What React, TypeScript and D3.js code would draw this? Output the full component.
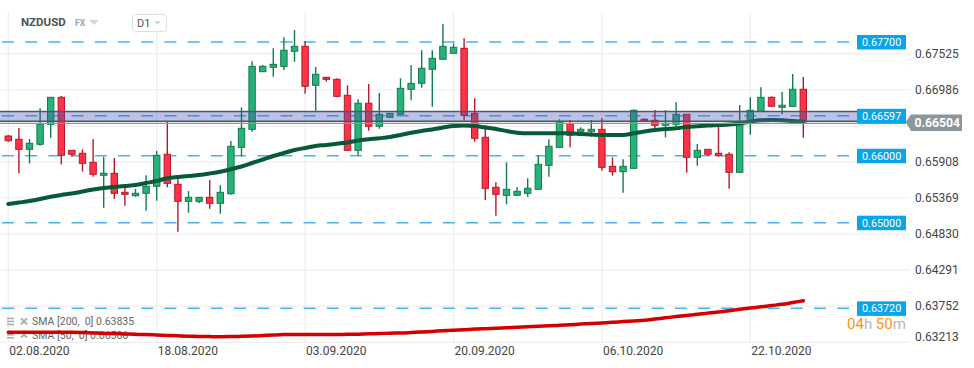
import React from 'react';
import * as d3 from 'd3';

const W = 974;
const H = 368;

// Daily bars 02.08.2020 .. 28.10.2020 (Saturdays excluded, Sunday bars included)
const startDate = new Date(2020, 7, 2);
const endDate = new Date(2020, 9, 29);
const fmt = d3.timeFormat('%d.%m.%Y');
const dates: string[] = d3.timeDay.range(startDate, endDate).filter(d => d.getDay() !== 6).map(d => fmt(d));

const open = [
  0.66295, 0.66246, 0.66096, 0.66171, 0.66470, 0.66873, 0.66081, 0.66037, 0.65902, 0.65708,
  0.65738, 0.65454, 0.65403, 0.65439, 0.65544, 0.66022, 0.65573, 0.65319, 0.65319, 0.65379,
  0.65290, 0.65433, 0.66126, 0.66395, 0.67256, 0.67322, 0.67336, 0.67561, 0.67635, 0.67053,
  0.67172, 0.67142, 0.66903, 0.66081, 0.66784, 0.66440, 0.66574, 0.66619, 0.66993, 0.67082,
  0.67292, 0.67441, 0.67531, 0.67605, 0.66634, 0.66276, 0.65529, 0.65409, 0.65409, 0.65439,
  0.65499, 0.65857, 0.66126, 0.66479, 0.66365, 0.66365, 0.66395, 0.65842, 0.65762, 0.65812,
  0.66545, 0.66530, 0.66455, 0.66470, 0.66619, 0.65977, 0.66096, 0.66037, 0.66022, 0.65753,
  0.66485, 0.66664, 0.66873, 0.66724, 0.66739, 0.66993];

const high = [
  0.66310, 0.66415, 0.66250, 0.66709, 0.66873, 0.66893, 0.66081, 0.66096, 0.66250, 0.65986,
  0.65966, 0.65573, 0.65503, 0.65708, 0.66071, 0.66515, 0.65678, 0.65473, 0.65379, 0.65638,
  0.65558, 0.66220, 0.66724, 0.67411, 0.67356, 0.67605, 0.67770, 0.67879, 0.67714, 0.67326,
  0.67172, 0.67157, 0.67053, 0.66843, 0.67072, 0.66938, 0.66634, 0.67157, 0.67356, 0.67576,
  0.67576, 0.67968, 0.67680, 0.67755, 0.66858, 0.66455, 0.65603, 0.65902, 0.65529, 0.65663,
  0.66007, 0.66246, 0.66545, 0.66534, 0.66425, 0.66534, 0.66560, 0.65977, 0.65947, 0.66694,
  0.66560, 0.66684, 0.66684, 0.66803, 0.66619, 0.66176, 0.66096, 0.66449, 0.66051, 0.66758,
  0.66873, 0.67023, 0.66888, 0.66952, 0.67221, 0.67177];

const low = [
  0.66210, 0.65738, 0.65887, 0.66150, 0.66270, 0.65872, 0.65986, 0.65762, 0.65687, 0.65224,
  0.65358, 0.65254, 0.65388, 0.65179, 0.65328, 0.65529, 0.64865, 0.65149, 0.65290, 0.65209,
  0.65134, 0.65418, 0.65989, 0.66359, 0.67256, 0.67181, 0.67281, 0.67405, 0.66927, 0.66673,
  0.67106, 0.66873, 0.66081, 0.66001, 0.66374, 0.66404, 0.66574, 0.66619, 0.66828, 0.67017,
  0.66733, 0.67441, 0.67531, 0.66524, 0.66210, 0.65339, 0.65104, 0.65275, 0.65399, 0.65388,
  0.65499, 0.65687, 0.66126, 0.66126, 0.66335, 0.66285, 0.65777, 0.65702, 0.65448, 0.65812,
  0.66515, 0.66395, 0.66276, 0.66434, 0.65747, 0.65851, 0.66001, 0.65986, 0.65508, 0.65753,
  0.66314, 0.66664, 0.66739, 0.66619, 0.66739, 0.66270];

const close = [
  0.66225, 0.66096, 0.66186, 0.66474, 0.66873, 0.66007, 0.66022, 0.65887, 0.65723, 0.65738,
  0.65439, 0.65424, 0.65439, 0.65544, 0.66007, 0.65588, 0.65319, 0.65379, 0.65379, 0.65290,
  0.65454, 0.66141, 0.66410, 0.67336, 0.67336, 0.67366, 0.67576, 0.67635, 0.67038, 0.67217,
  0.67142, 0.66888, 0.66081, 0.66784, 0.66440, 0.66619, 0.66634, 0.67008, 0.67082, 0.67307,
  0.67456, 0.67635, 0.67620, 0.66604, 0.66261, 0.65514, 0.65424, 0.65499, 0.65469, 0.65514,
  0.65872, 0.66141, 0.66504, 0.66306, 0.66395, 0.66395, 0.65827, 0.65762, 0.65842, 0.66679,
  0.66515, 0.66455, 0.66485, 0.66619, 0.65977, 0.66081, 0.66022, 0.66001, 0.65753, 0.66485,
  0.66679, 0.66873, 0.66739, 0.66754, 0.66993, 0.66504];

const sma50 = [
  0.65279, 0.65301, 0.65324, 0.65354, 0.65388, 0.65414, 0.65436, 0.65466, 0.65496, 0.65518,
  0.65533, 0.65548, 0.65563, 0.65593, 0.65623, 0.65663, 0.65682, 0.65697, 0.65712, 0.65735,
  0.65762, 0.65798, 0.65839, 0.65892, 0.65944, 0.65996, 0.66041, 0.66086, 0.66116, 0.66146,
  0.66161, 0.66180, 0.66198, 0.66228, 0.66246, 0.66261, 0.66280, 0.66310, 0.66344, 0.66370,
  0.66392, 0.66422, 0.66444, 0.66452, 0.66444, 0.66422, 0.66400, 0.66370, 0.66344, 0.66335,
  0.66335, 0.66335, 0.66335, 0.66335, 0.66325, 0.66317, 0.66310, 0.66310, 0.66310, 0.66335,
  0.66362, 0.66385, 0.66400, 0.66410, 0.66430, 0.66441, 0.66452, 0.66459, 0.66467, 0.66482,
  0.66509, 0.66530, 0.66534, 0.66530, 0.66519, 0.66509];

const sma200 = [
  0.63362, 0.63362, 0.63362, 0.63362, 0.63362, 0.63362, 0.63362, 0.63358, 0.63352, 0.63347,
  0.63343, 0.63337, 0.63332, 0.63328, 0.63322, 0.63316, 0.63310, 0.63305, 0.63301, 0.63298,
  0.63296, 0.63298, 0.63302, 0.63307, 0.63314, 0.63322, 0.63328, 0.63329, 0.63329, 0.63329,
  0.63331, 0.63331, 0.63332, 0.63335, 0.63340, 0.63344, 0.63349, 0.63352, 0.63359, 0.63367,
  0.63376, 0.63385, 0.63394, 0.63402, 0.63411, 0.63417, 0.63423, 0.63429, 0.63437, 0.63444,
  0.63452, 0.63459, 0.63467, 0.63476, 0.63485, 0.63494, 0.63503, 0.63512, 0.63522, 0.63532,
  0.63543, 0.63561, 0.63579, 0.63597, 0.63613, 0.63631, 0.63649, 0.63667, 0.63686, 0.63706,
  0.63725, 0.63743, 0.63762, 0.63780, 0.63807, 0.63834];

const yTicks = [0.67525, 0.66986, 0.66447, 0.65908, 0.65369, 0.64830, 0.64291, 0.63752, 0.63213];
const hiddenTick = 0.66447;
const levels = [0.67700, 0.66597, 0.66000, 0.65000, 0.63720];
const band = [0.66515, 0.66661];
const lastPrice = 0.66504;
const xTickLabels = ['02.08.2020', '18.08.2020', '03.09.2020', '20.09.2020', '06.10.2020', '22.10.2020'];
const legendRows = ['SMA [200,  0] 0.63835', 'SMA [50,  0] 0.66506'];

const FONT = 'Roboto, "Noto Sans", sans-serif';

export default function App() {
  const x = d3.scalePoint<string>().domain(dates).range([8.3, 803.3]);
  const y = d3.scaleLinear().domain([0.63098, 0.68327]).range([350, 0]);
  const idx = d3.range(dates.length);

  const lineGen = (vals: number[]) =>
    d3.line<number>().x(i => x(dates[i]) as number).y(i => y(vals[i])).curve(d3.curveMonotoneX)(idx) || '';

  const bodyW = 6.4;
  const gridRight = 910;
  const labelX = 857;

  return (
    <svg width={W} height={H} style={{ position: 'absolute', left: 0, top: 0, background: '#fff' }} fontFamily={FONT}>
      {/* grid */}
      {yTicks.map(t => (
        <line key={'g' + t} x1={0} x2={gridRight} y1={y(t)} y2={y(t)} stroke="#eeeeee" strokeWidth={1.2} />
      ))}
      {xTickLabels.map(l => (
        <line key={'v' + l} x1={x(l)} x2={x(l)} y1={12} y2={y(0.63213)} stroke="#eeeeee" strokeWidth={1.2} />
      ))}

      {/* header */}
      <text x={21} y={26} fontSize={11.5} fontWeight={700} fill="#4a5359">NZDUSD</text>
      <text x={75} y={26} fontSize={8.5} fontWeight={700} fill="#9aa3a8">FX</text>
      <path d="M89,20 L99,20 L94,25 Z" fill="#d5d8da" />
      <rect x={132.5} y={14.5} width={34} height={17} rx={3} fill="#fff" stroke="#dcdfe1" />
      <text x={137} y={27} fontSize={11} fill="#555">D1</text>
      <path d="M154,21 L161,21 L157.5,25 Z" fill="#d5d8da" />

      {/* horizontal levels */}
      {levels.map(l => (
        <line key={'l' + l} x1={2} x2={labelX} y1={y(l)} y2={y(l)} stroke="#42b6f0" strokeWidth={1.5} strokeDasharray="12 11.2" />
      ))}

      {/* legend */}
      {legendRows.map((r, i) => {
        const cy = 321.7 + i * 13.3;
        return (
          <g key={'lg' + i}>
            <rect x={7} y={cy - 4} width={7} height={1.5} fill="#a8a8a8" />
            <rect x={7} y={cy - 1} width={7} height={1.5} fill="#a8a8a8" />
            <rect x={7} y={cy + 2} width={7} height={1.5} fill="#a8a8a8" />
            <path d={`M21,${cy - 3.5} L27,${cy + 2.5} M27,${cy - 3.5} L21,${cy + 2.5}`} stroke="#b0b0b0" strokeWidth={2} />
            <text x={32} y={cy} dy="0.35em" fontSize={10.5} fill="#666" style={{ whiteSpace: 'pre' }}>{r}</text>
          </g>
        );
      })}

      {/* candles */}
      {idx.map(i => {
        const up = close[i] >= open[i];
        const cx = x(dates[i]) as number;
        const top = y(Math.max(open[i], close[i]));
        const bot = y(Math.min(open[i], close[i]));
        const h = Math.max(bot - top, 1.5);
        const fill = up ? '#27b377' : '#ff3347';
        const stroke = up ? '#167a4e' : '#b5192c';
        return (
          <g key={'c' + i}>
            <line x1={cx} x2={cx} y1={y(high[i])} y2={y(low[i])} stroke={stroke} strokeWidth={1.4} />
            <rect x={cx - bodyW / 2} y={top} width={bodyW} height={h} fill={fill} stroke={stroke} strokeWidth={1} />
          </g>
        );
      })}

      {/* SMA lines */}
      <path d={lineGen(sma200)} fill="none" stroke="#d40000" strokeWidth={3.5} strokeLinejoin="round" strokeLinecap="round" />
      <path d={lineGen(sma50)} fill="none" stroke="#065a38" strokeWidth={4} strokeLinejoin="round" strokeLinecap="round" />

      {/* zone band */}
      <rect x={0} y={y(band[1])} width={labelX} height={y(band[0]) - y(band[1])} fill="#3f51b5" fillOpacity={0.35} />
      <line x1={0} x2={labelX} y1={y(band[1])} y2={y(band[1])} stroke="#4c5863" strokeWidth={1.6} />
      <line x1={0} x2={labelX} y1={y(band[0])} y2={y(band[0])} stroke="#4c5863" strokeWidth={1.6} />
      <line x1={0} x2={906} y1={y(lastPrice) + 1.3} y2={y(lastPrice) + 1.3} stroke="#8e989c" strokeWidth={1.2} />

      {/* level labels */}
      {levels.map(l => (
        <g key={'ll' + l}>
          <rect x={labelX} y={y(l) - 7} width={49} height={14.5} fill="#0aa5e9" />
          <text x={862} y={y(l) + 0.3} dy="0.35em" fontSize={10.8} fill="#fff">{l.toFixed(5)}</text>
        </g>
      ))}

      {/* y axis labels */}
      {yTicks.filter(t => t !== hiddenTick).map(t => (
        <text key={'t' + t} x={915} y={t === 0.63213 ? 337 : y(t)} dy="0.35em" fontSize={12} fill="#454545">{t.toFixed(5)}</text>
      ))}

      {/* last price label */}
      <path d={`M905.7,${y(lastPrice)} L911,114.5 L962,114.5 L962,131 L911,131 Z`} fill="#8c979b" />
      <text x={914.5} y={123} dy="0.35em" fontSize={12.2} fontWeight={700} fill="#fff">{lastPrice.toFixed(5)}</text>

      {/* countdown */}
      <text x={847} y={329} fontSize={15} fill="#f7941d">
        04<tspan fill="#b5b5b5">h</tspan> 50<tspan fill="#b5b5b5">m</tspan>
      </text>

      {/* x axis labels */}
      {xTickLabels.map(l => (
        <text key={'xl' + l} x={(x(l) as number) + 1} y={351} dy="0.35em" fontSize={12} fill="#454545">{l}</text>
      ))}
    </svg>
  );
}
